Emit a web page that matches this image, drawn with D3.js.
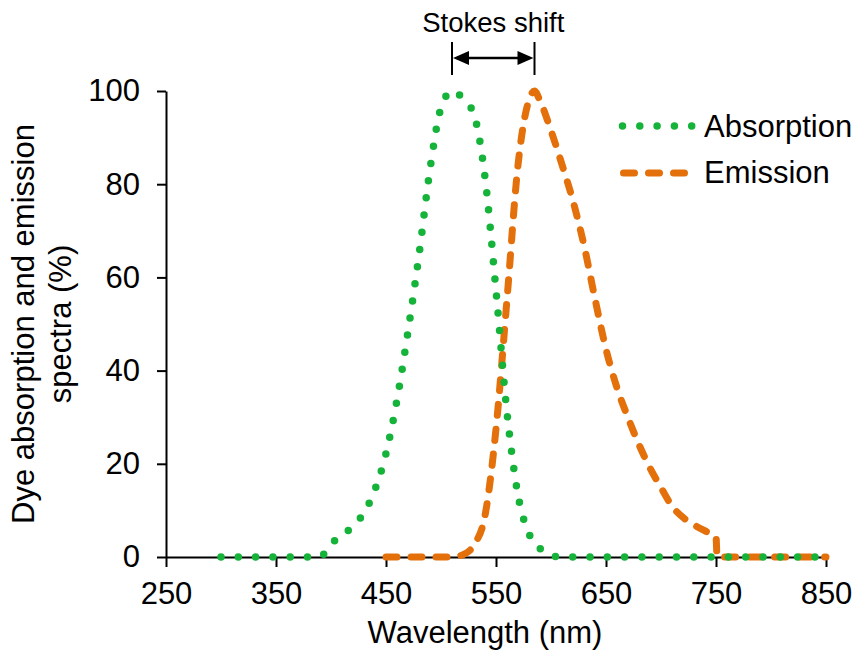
<!DOCTYPE html>
<html>
<head>
<meta charset="utf-8">
<script src="https://cdn.jsdelivr.net/npm/d3@7/dist/d3.min.js"></script>
<style>
  html, body { margin: 0; padding: 0; background: #fff; }
  svg { display: block; font-family: "Liberation Sans", Arial, sans-serif; }
</style>
</head>
<body>
<svg id="chart" width="854" height="650"></svg>
<script>
// Absorption spectrum of the dye (% of maximum)
const absWavelength = [300, 310, 320, 330, 340, 350, 360, 370, 380, 390,
  400, 410, 420, 430, 440, 450, 460, 470, 480, 490,
  500, 510, 520, 530, 540, 550, 560, 570, 580, 590,
  600, 610, 620, 630, 640, 650, 660, 670, 680, 690,
  700, 710, 720, 730, 740, 750, 760, 770, 780, 790,
  800, 810, 820, 830, 840, 850];
const absValue = [0, 0, 0, 0, 0, 0, 0, 0, 0, 0,
  2.8, 4.7, 6.6, 9.5, 14.5, 22.2, 33.7, 48.4, 64.8, 83.2,
  96.4, 100, 98.4, 94.9, 81.5, 57.2, 31.0, 13.3, 5.0, 1.8,
  0.3, 0, 0, 0, 0, 0, 0, 0, 0, 0,
  0, 0, 0, 0, 0, 0, 0, 0, 0, 0,
  0, 0, 0, 0, 0, 0];

// Emission spectrum of the dye (% of maximum)
const emWavelength = [450, 460, 470, 480, 490, 500, 510, 520, 530, 540,
  550, 560, 570, 580, 585, 590, 600, 610, 620, 630,
  640, 650, 660, 670, 680, 690, 700, 710, 720, 730,
  740, 750, 751, 760, 770, 780, 790, 800, 810, 820,
  830, 840, 850];
const emValue = [0, 0, 0, 0, 0, 0, 0, 0.5, 2.6, 8.9,
  27.5, 55.3, 84.1, 98.1, 100, 97.9, 91.5, 84.2, 76.4, 66.9,
  55.4, 44.6, 36.3, 29.9, 24.1, 19.1, 14.9, 10.9, 8.5, 6.9,
  5.6, 4.4, 0, 0, 0, 0, 0, 0, 0, 0,
  0, 0, 0];

const xTicks = [250, 350, 450, 550, 650, 750, 850];
const yTicks = [0, 20, 40, 60, 80, 100];
const seriesNames = ["Absorption", "Emission"];
const seriesColors = ["#16b33a", "#e4700c"];

const svg = d3.select("#chart");
const FONT = 31;

const x = d3.scaleLinear().domain([250, 850]).range([166, 826]);
const y = d3.scaleLinear().domain([0, 100]).range([557, 91]);

// Axes
const xAxis = svg.append("g")
  .attr("transform", `translate(0,${y(0)})`)
  .call(d3.axisBottom(x).tickValues(xTicks).tickSize(10).tickSizeOuter(0).tickPadding(15));
const yAxis = svg.append("g")
  .attr("transform", `translate(${x(250)},0)`)
  .call(d3.axisLeft(y).tickValues(yTicks).tickSize(9).tickSizeOuter(0).tickPadding(17));

[xAxis, yAxis].forEach(g => {
  g.select(".domain").attr("stroke", "#000").attr("stroke-width", 2);
  g.selectAll(".tick line").attr("stroke", "#000").attr("stroke-width", 2);
  g.selectAll(".tick text")
    .attr("fill", "#000")
    .style("font-size", FONT + "px")
    .style("font-family", "'Liberation Sans', Arial, sans-serif");
});

// Axis titles
svg.append("text")
  .attr("x", 485).attr("y", 643)
  .attr("text-anchor", "middle")
  .style("font-size", FONT + "px")
  .text("Wavelength (nm)");

const yTitle = svg.append("text")
  .attr("transform", `translate(0,${(y(0) + y(100)) / 2}) rotate(-90)`)
  .attr("text-anchor", "middle")
  .style("font-size", FONT + "px");
yTitle.append("tspan").attr("x", 0).attr("y", 34).text("Dye absorption and emission");
yTitle.append("tspan").attr("x", 0).attr("y", 71).text("spectra (%)");

// Spectra
const line = d3.line()
  .x(d => x(d[0]))
  .y(d => y(d[1]))
  .curve(d3.curveMonotoneX);

const absData = absWavelength.map((w, i) => [w, absValue[i]]);
const emData = emWavelength.map((w, i) => [w, emValue[i]]);

const dotStyle = { dash: "0 17.3", width: 7.5 };
const dashStyle = { dash: "11 14", width: 7 };

svg.append("path")
  .datum(emData)
  .attr("d", line)
  .attr("fill", "none")
  .attr("stroke", seriesColors[1])
  .attr("stroke-width", dashStyle.width)
  .attr("stroke-linecap", "round")
  .attr("stroke-linejoin", "round")
  .attr("stroke-dasharray", dashStyle.dash);

svg.append("path")
  .datum(absData)
  .attr("d", line)
  .attr("fill", "none")
  .attr("stroke", seriesColors[0])
  .attr("stroke-width", dotStyle.width)
  .attr("stroke-linecap", "round")
  .attr("stroke-dasharray", dotStyle.dash);

// Stokes shift marker between the two peaks
const absPeak = absData.reduce((a, b) => (b[1] > a[1] ? b : a))[0];
const emPeak = emData.reduce((a, b) => (b[1] > a[1] ? b : a))[0];
const x1 = x(absPeak), x2 = x(emPeak);
const arrowY = 58;
const stokes = svg.append("g").attr("stroke", "#000").attr("fill", "#000");
stokes.append("line").attr("x1", x1).attr("x2", x1).attr("y1", 42).attr("y2", 75).attr("stroke-width", 2);
stokes.append("line").attr("x1", x2).attr("x2", x2).attr("y1", 42).attr("y2", 75).attr("stroke-width", 2);
stokes.append("line").attr("x1", x1 + 8).attr("x2", x2 - 8).attr("y1", arrowY).attr("y2", arrowY).attr("stroke-width", 2.5);
stokes.append("path").attr("stroke", "none")
  .attr("d", `M${x1 + 1},${arrowY} L${x1 + 17},${arrowY - 7} L${x1 + 17},${arrowY + 7} Z`);
stokes.append("path").attr("stroke", "none")
  .attr("d", `M${x2 - 1},${arrowY} L${x2 - 17},${arrowY - 7} L${x2 - 17},${arrowY + 7} Z`);
svg.append("text")
  .attr("x", (x1 + x2) / 2).attr("y", 32)
  .attr("text-anchor", "middle")
  .style("font-size", "27.5px")
  .text("Stokes shift");

// Legend
const legend = svg.append("g");
const legendRows = [
  { name: seriesNames[0], color: seriesColors[0], style: dotStyle, x1: 622.5, x2: 692, y: 126, ty: 137 },
  { name: seriesNames[1], color: seriesColors[1], style: dashStyle, x1: 623.5, x2: 685, y: 173, ty: 183 }
];
legendRows.forEach(r => {
  legend.append("line")
    .attr("x1", r.x1).attr("x2", r.x2).attr("y1", r.y).attr("y2", r.y)
    .attr("stroke", r.color)
    .attr("stroke-width", r.style.width)
    .attr("stroke-linecap", "round")
    .attr("stroke-dasharray", r.style.dash);
  legend.append("text")
    .attr("x", 704).attr("y", r.ty)
    .style("font-size", FONT + "px")
    .text(r.name);
});
</script>
</body>
</html>
